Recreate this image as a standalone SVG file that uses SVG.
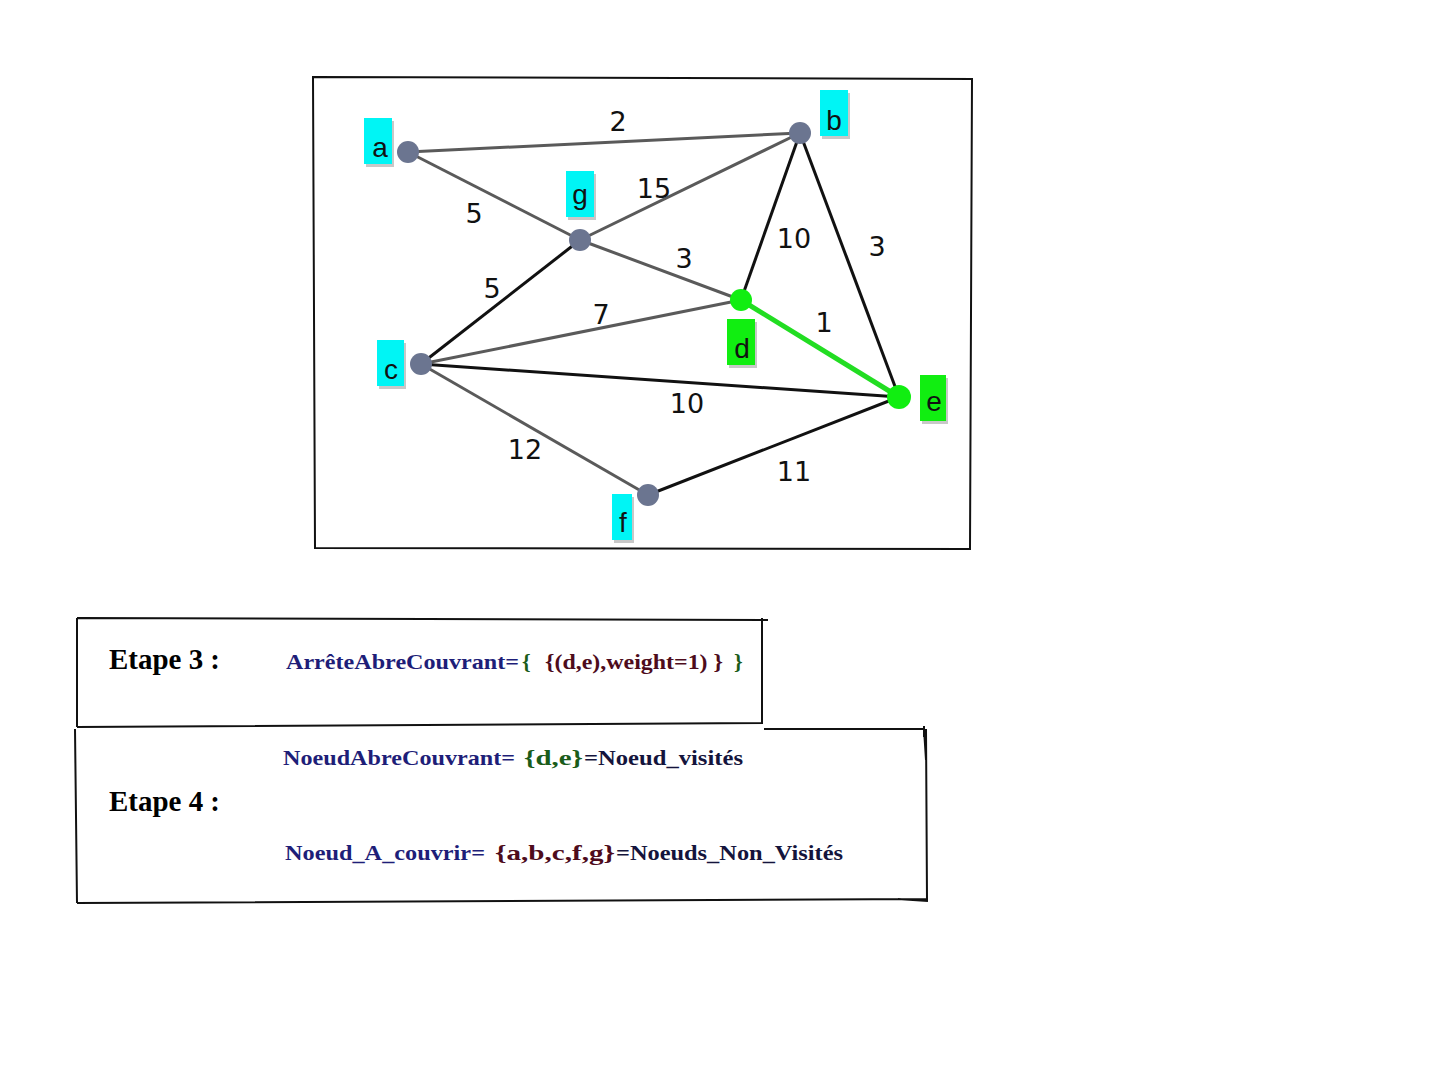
<svg xmlns="http://www.w3.org/2000/svg" width="1437" height="1071" viewBox="0 0 1437 1071">
  <style>
    .frame { fill: none; stroke: #111; stroke-width: 2; }
    .e-gray { stroke: #5a5a5a; stroke-width: 3; fill: none; }
    .e-black { stroke: #111; stroke-width: 3; fill: none; }
    .e-green { stroke: #22dd22; stroke-width: 5; fill: none; }
    .vert { fill: #6b7590; }
    .vert-on { fill: #11ee11; }
    .tag { fill: #00f5f5; }
    .tag-on { fill: #11ee11; }
    .tag-shadow { fill: #c8c8c8; }
    .tag-txt { font-family: "Liberation Sans", Arial, sans-serif; font-size: 28px; fill: #111; text-anchor: middle; }
    .w { font-family: "DejaVu Sans", "Liberation Sans", sans-serif; font-size: 27px; fill: #111; text-anchor: middle; }
    .step { font-family: "Liberation Serif", "Times New Roman", serif; font-weight: bold; font-size: 30px; fill: #000; }
    .tx { font-family: "Liberation Serif", "Times New Roman", serif; font-weight: bold; font-size: 22px; }
    .navy { fill: #1e1e78; }
    .grn { fill: #1a5c1a; }
    .mar { fill: #4e0c1c; }
    .dk { fill: #14143c; }
  </style>

  <rect width="1437" height="1071" fill="#fff"/>

  <!-- graph frame -->
  <path class="frame" d="M313,77 L972,79 L970,549 L315,548 Z"/>

  <!-- connectors -->
  <g id="edges">
    <line class="e-gray" x1="408" y1="152" x2="800" y2="133"/>
    <line class="e-gray" x1="408" y1="152" x2="580" y2="240"/>
    <line class="e-gray" x1="580" y1="240" x2="800" y2="133"/>
    <line class="e-gray" x1="580" y1="240" x2="741" y2="300"/>
    <line class="e-black" x1="580" y1="240" x2="421" y2="364"/>
    <line class="e-gray" x1="421" y1="364" x2="741" y2="300"/>
    <line class="e-black" x1="800" y1="133" x2="741" y2="300"/>
    <line class="e-black" x1="800" y1="133" x2="899" y2="397"/>
    <line class="e-black" x1="421" y1="364" x2="899" y2="397"/>
    <line class="e-gray" x1="421" y1="364" x2="648" y2="495"/>
    <line class="e-black" x1="648" y1="495" x2="899" y2="397"/>
    <line class="e-green" x1="741" y1="300" x2="899" y2="397"/>
    <!-- weights -->
    <text class="w" x="618" y="131">2</text>
    <text class="w" x="474" y="223">5</text>
    <text class="w" x="654" y="198">15</text>
    <text class="w" x="684" y="268">3</text>
    <text class="w" x="794" y="248">10</text>
    <text class="w" x="877" y="256">3</text>
    <text class="w" x="492" y="298">5</text>
    <text class="w" x="601" y="324">7</text>
    <text class="w" x="824" y="332">1</text>
    <text class="w" x="687" y="413">10</text>
    <text class="w" x="525" y="459">12</text>
    <text class="w" x="794" y="481">11</text>
  </g>

  <!-- vertices -->
  <g id="node-a">
    <rect class="tag-shadow" x="366" y="121" width="28" height="46"/>
    <rect class="tag" x="364" y="118" width="28" height="46"/>
    <text class="tag-txt" x="380" y="157">a</text>
    <circle class="vert" cx="408" cy="152" r="11"/>
  </g>
  <g id="node-b">
    <rect class="tag-shadow" x="822" y="93" width="28" height="46"/>
    <rect class="tag" x="820" y="90" width="28" height="46"/>
    <text class="tag-txt" x="834" y="130">b</text>
    <circle class="vert" cx="800" cy="133" r="11"/>
  </g>
  <g id="node-g">
    <rect class="tag-shadow" x="568" y="174" width="28" height="46"/>
    <rect class="tag" x="566" y="171" width="28" height="46"/>
    <text class="tag-txt" x="580" y="204">g</text>
    <circle class="vert" cx="580" cy="240" r="11"/>
  </g>
  <g id="node-d">
    <rect class="tag-shadow" x="729" y="322" width="28" height="46"/>
    <rect class="tag-on" x="727" y="319" width="28" height="46"/>
    <text class="tag-txt" x="742" y="358">d</text>
    <circle class="vert-on" cx="741" cy="300" r="11"/>
  </g>
  <g id="node-c">
    <rect class="tag-shadow" x="379" y="343" width="27" height="46"/>
    <rect class="tag" x="377" y="340" width="27" height="46"/>
    <text class="tag-txt" x="391" y="379">c</text>
    <circle class="vert" cx="421" cy="364" r="11"/>
  </g>
  <g id="node-e">
    <rect class="tag-shadow" x="922" y="378" width="26" height="46"/>
    <rect class="tag-on" x="920" y="375" width="26" height="46"/>
    <text class="tag-txt" x="934" y="411">e</text>
    <circle class="vert-on" cx="899" cy="397" r="12"/>
  </g>
  <g id="node-f">
    <rect class="tag-shadow" x="614" y="497" width="20" height="46"/>
    <rect class="tag" x="612" y="494" width="20" height="46"/>
    <text class="tag-txt" x="623" y="532">f</text>
    <circle class="vert" cx="648" cy="495" r="11"/>
  </g>

  <!-- step 3 panel -->
  <g id="step3">
    <path class="frame" d="M77,618 L768,620 M762,618 L762,723 L77,727 M77,618 L77,727"/>
    <text class="step" x="109" y="669" textLength="111" lengthAdjust="spacingAndGlyphs">Etape 3 :</text>
    <text class="tx navy" x="286" y="669" textLength="233" lengthAdjust="spacingAndGlyphs">ArrêteAbreCouvrant=</text>
    <text class="tx grn" x="522" y="669">{</text>
    <text class="tx mar" x="545" y="669" textLength="178" lengthAdjust="spacingAndGlyphs">{(d,e),weight=1) }</text>
    <text class="tx grn" x="734" y="669">}</text>
  </g>

  <!-- step 4 panel -->
  <g id="step4">
    <path class="frame" d="M764,729 L924,729 L926,760 M926,729 L927,899 L77,903 M75,729 L77,903 M924,726 L924,737 M898,899 L928,901"/>
    <text class="step" x="109" y="811" textLength="111" lengthAdjust="spacingAndGlyphs">Etape 4 :</text>
    <text class="tx navy" x="283" y="765" textLength="232" lengthAdjust="spacingAndGlyphs">NoeudAbreCouvrant=</text>
    <text class="tx grn" x="524" y="765" font-size="28" textLength="59" lengthAdjust="spacingAndGlyphs">{d,e}</text>
    <text class="tx dk" x="584" y="765" textLength="159" lengthAdjust="spacingAndGlyphs">=Noeud_visités</text>
    <text class="tx navy" x="285" y="860" textLength="200" lengthAdjust="spacingAndGlyphs">Noeud_A_couvrir=</text>
    <text class="tx mar" x="495" y="860" font-size="28" textLength="120" lengthAdjust="spacingAndGlyphs">{a,b,c,f,g}</text>
    <text class="tx dk" x="616" y="860" textLength="227" lengthAdjust="spacingAndGlyphs">=Noeuds_Non_Visités</text>
  </g>
</svg>
